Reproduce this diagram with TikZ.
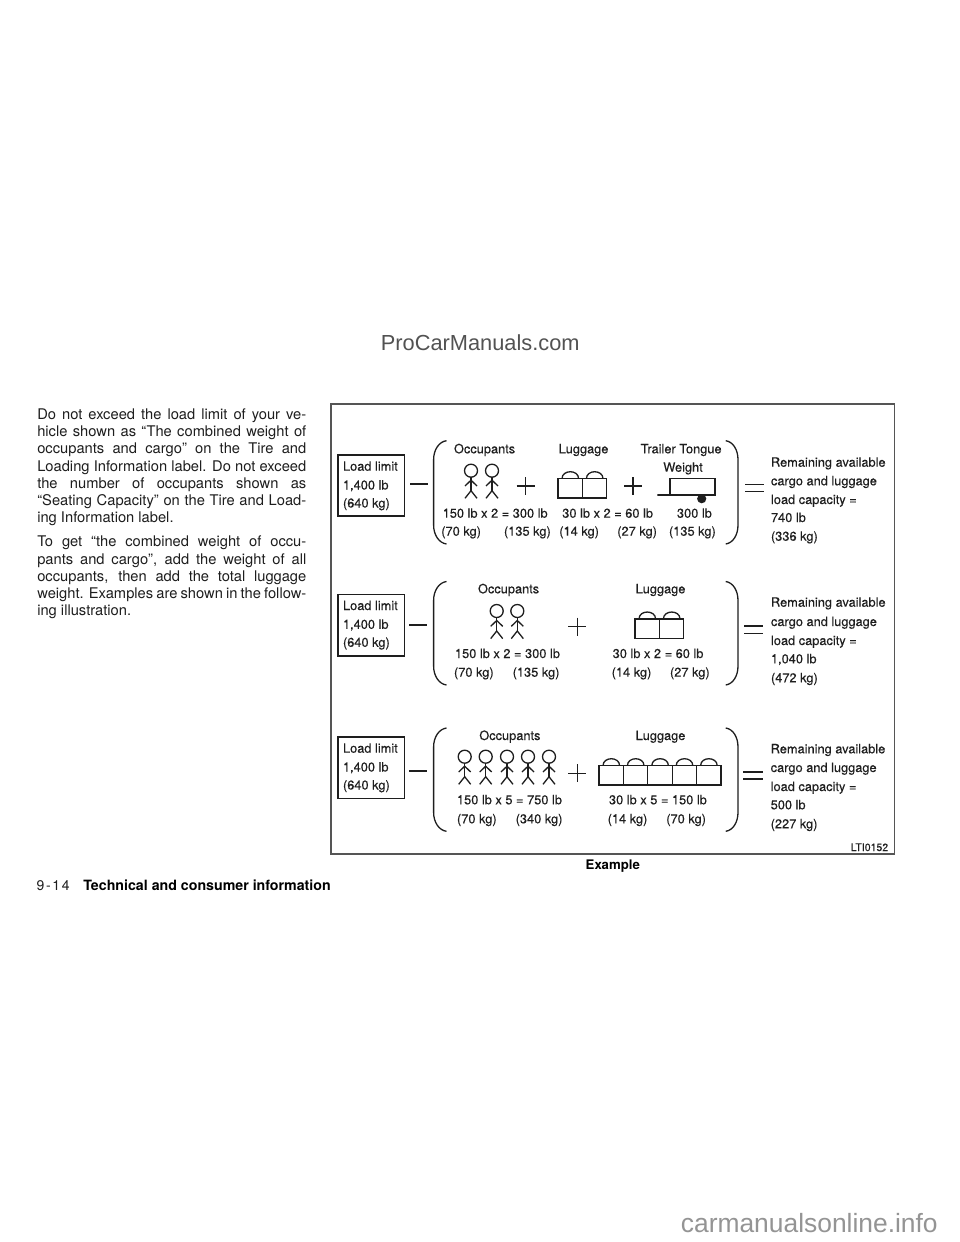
\documentclass[tikz,border=0pt]{standalone}
\usepackage{fontspec}
\setmainfont{TeX Gyre Heros}
\newfontfamily\wmfont{Liberation Sans}
\newfontfamily\dgfont[FakeBold=0.18]{TeX Gyre Heros}
\newcounter{tc}
\definecolor{ink}{HTML}{1E1E1E}
\definecolor{framegray}{HTML}{555555}
\tikzset{
  x=1pt,y=-1pt,
  lbl/.style={anchor=base west,inner sep=0pt,outer sep=0pt,text=ink,font=\dgfont\fontsize{12.8}{14}\selectfont},
  body/.style={anchor=base west,inner sep=0pt,outer sep=0pt,text=ink,font=\fontsize{14.7}{16}\selectfont},
  boldlbl/.style={anchor=base west,inner sep=0pt,outer sep=0pt,text=black,font=\fontsize{13.2}{15}\bfseries\selectfont},
  ln/.style={draw=ink,line width=1.3pt,line join=miter},
  frameln/.style={draw=framegray,line width=1.4pt},
}
\newcommand{\T}[3]{\stepcounter{tc}\node[lbl] (t\thetc) at (#1,#2) {#3};}
\newcommand{\B}[2]{\stepcounter{tc}\node[body] (t\thetc) at (37.3,#1) {\spaceskip=.28em plus 1.2em minus .2em\hbox to 269pt{#2}};}
\newcommand{\Bl}[2]{\stepcounter{tc}\node[body] (t\thetc) at (37.3,#1) {#2};}
\newcommand{\person}[2]{%
  \draw[ln] (#1,#2) circle (6.5);
  \draw[ln] (#1,#2+6.5) -- (#1,#2+20);
  \draw[ln] (#1-6,#2+15.3) -- (#1,#2+9.5) -- (#1+6,#2+15.3);
  \draw[ln] (#1-6,#2+27.6) -- (#1,#2+20) -- (#1+6,#2+27.6);}
\newcommand{\lug}[3]{% x y(top of box) n
  \foreach \i in {1,...,#3}{%
    \pgfmathsetmacro{\xa}{#1+(\i-1)*24.4}
    \draw[ln] (\xa,#2) rectangle (\xa+24.4,#2+19.4);
    \draw[ln] (\xa+4,#2) .. controls (\xa+4,#2-9.3) and (\xa+20.6,#2-9.3) .. (\xa+20.6,#2);}}
\newcommand{\plusm}[2]{\draw[ln] (#1-9,#2) -- (#1+9,#2) (#1,#2-9) -- (#1,#2+9);}
\newcommand{\lbrc}[2]{\draw[ln] (446.5,#1) .. controls (439,#1+1) and (433.6,#1+9) .. (433.6,#1+19) -- (433.6,#2-19) .. controls (433.6,#2-9) and (439,#2-1) .. (446.5,#2);}
\newcommand{\rbrc}[2]{\draw[ln] (725.7,#1) .. controls (733,#1+1) and (738,#1+9) .. (738,#1+19) -- (738,#2-19) .. controls (738,#2-9) and (733,#2-1) .. (725.7,#2);}
\newcommand{\loadbox}[2]{% top, bottom
  \draw[ln] (338,#1) rectangle (404.3,#2);
  \T{343}{#1+15.7}{Load limit}
  \T{343}{#1+34.5}{1,400 lb}
  \T{343}{#1+52.5}{(640 kg)}}
\begin{document}
\begin{tikzpicture}
\useasboundingbox (0,0) rectangle (960,1242);
\fill[white] (0,0) rectangle (960,1242);
% watermarks
\node[anchor=base west,inner sep=0pt,text=black!68,font=\wmfont\fontsize{21.8}{24}\selectfont] (wm1) at (380.7,350) {ProCarManuals.com};
\node[anchor=base west,inner sep=0pt,text=black!42,font=\wmfont\fontsize{26.4}{29}\selectfont] (wm2) at (680.7,1232.7) {carmanualsonline.info};
% body text
\B{419}{Do not exceed the load limit of your ve-}
\B{436}{hicle shown as “The combined weight of}
\B{453.7}{occupants and cargo” on the Tire and}
\B{471}{Loading Information label. Do not exceed}
\B{488.3}{the number of occupants shown as}
\B{505.3}{“Seating Capacity” on the Tire and Load-}
\Bl{522.3}{ing Information label.}
\B{546.7}{To get “the combined weight of occu-}
\B{564}{pants and cargo”, add the weight of all}
\B{581}{occupants, then add the total luggage}
\B{598.3}{weight. Examples are shown in the follow-}
\Bl{615}{ing illustration.}
% frame
\draw[frameln] (331,404) rectangle (894.4,854);
% row 1
\loadbox{455}{516}
\draw[ln] (410,484) -- (428,484);
\lbrc{440.7}{544}
\T{454}{453.3}{Occupants}
\person{471}{470.7}\person{492}{470.7}
\plusm{525.7}{486}
\T{442.7}{517.7}{150 lb x 2 = 300 lb}
\T{441.3}{535.7}{(70 kg)}
\T{504}{535.7}{(135 kg)}
\T{558.7}{453.3}{Luggage}
\lug{558}{478.7}{2}
\plusm{633}{486}
\T{562.3}{517.7}{30 lb x 2 = 60 lb}
\T{559.3}{535.7}{(14 kg)}
\T{617.3}{535.7}{(27 kg)}
\T{640.7}{453.3}{Trailer Tongue}
\T{663.3}{471.7}{Weight}
\draw[ln] (657.3,495) -- (670,495) -- (670,478.7) -- (715,478.7) -- (715,495) -- cycle;
\fill[ink] (701.7,498.7) circle (4.6);
\T{677}{517.7}{300 lb}
\T{669}{535.7}{(135 kg)}
\rbrc{440.7}{544}
\draw[ln] (745.3,484.3) -- (764.3,484.3) (745.3,491.7) -- (764.3,491.7);
\T{771}{466.7}{Remaining available}
\T{771}{485.3}{cargo and luggage}
\T{771}{504}{load capacity =}
\T{771}{522}{740 lb}
\T{771}{540.7}{(336 kg)}
% row 2
\loadbox{594.3}{656}
\draw[ln] (409,625) -- (427,625);
\lbrc{581.5}{685}
\T{478}{593.3}{Occupants}
\person{496.7}{611}\person{517.3}{611}
\plusm{577.3}{626.7}
\T{455}{658}{150 lb x 2 = 300 lb}
\T{454}{676.7}{(70 kg)}
\T{512.7}{676.7}{(135 kg)}
\T{635.7}{593.3}{Luggage}
\lug{635}{619}{2}
\T{612.7}{658}{30 lb x 2 = 60 lb}
\T{611.7}{676.7}{(14 kg)}
\T{670}{676.7}{(27 kg)}
\rbrc{581.5}{685}
\draw[ln] (744,626) -- (762.7,626) (744,633.3) -- (762.7,633.3);
\T{771}{606.7}{Remaining available}
\T{771}{626}{cargo and luggage}
\T{771}{645}{load capacity =}
\T{771}{663.3}{1,040 lb}
\T{771}{682.3}{(472 kg)}
% row 3
\loadbox{737}{798.7}
\draw[ln] (409,771) -- (427,771);
\lbrc{728}{831.3}
\T{479.3}{740}{Occupants}
\person{464.7}{756.7}\person{485.7}{756.7}\person{507}{756.7}\person{528}{756.7}\person{549}{756.7}
\plusm{577.3}{773.3}
\T{457}{804.3}{150 lb x 5 = 750 lb}
\T{457}{823.3}{(70 kg)}
\T{515.7}{823.3}{(340 kg)}
\T{635.7}{740}{Luggage}
\lug{599}{765.7}{5}
\T{609}{804.3}{30 lb x 5 = 150 lb}
\T{607.7}{823.3}{(14 kg)}
\T{666.3}{823.3}{(70 kg)}
\rbrc{728}{831.3}
\draw[ln] (743,772) -- (762.7,772) (743,779) -- (762.7,779);
\T{770.7}{753.3}{Remaining available}
\T{770.7}{772}{cargo and luggage}
\T{770.7}{791}{load capacity =}
\T{770.7}{809.3}{500 lb}
\T{770.7}{828.3}{(227 kg)}
% captions
\node[lbl,font=\dgfont\fontsize{10.5}{12}\selectfont] (code) at (850.7,851) {LTI0152};
\node[boldlbl] (example) at (585.7,869) {Example};
\node[lbl,font=\fontsize{14}{15}\selectfont] (pageno) at (36.7,890) {\hbox to 33pt{9\hfill-\hfill1\hfill4}};
\node[boldlbl,font=\fontsize{14.2}{15}\bfseries\selectfont] (foot) at (83.3,890) {Technical and consumer information};
\end{tikzpicture}
\end{document}
